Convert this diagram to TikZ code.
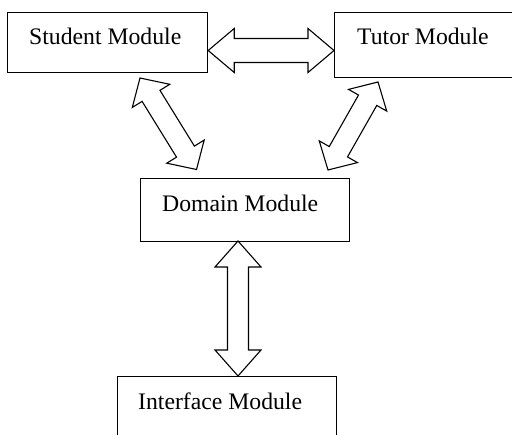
\documentclass[tikz,border=0pt]{standalone}
\usepackage{fontspec}
\setmainfont{Liberation Serif}
\usetikzlibrary{calc}
\tikzset{
  modbox/.style={draw, line width=1.2pt, anchor=north west, inner sep=0pt, rectangle},
  modtext/.style={anchor=base west, inner sep=0pt, font=\fontsize{23.7}{28}\selectfont},
  blockarr/.style={draw, line width=1.1pt, line join=miter, fill=white}
}
% #1,#2 tip coordinates; #3 head length; #4 head half width; #5 shaft half width
\newcommand{\blockdarrow}[5]{%
  \path[blockarr] (#1)
    -- ($($(#1)!#3!(#2)$)!#4!90:(#2)$)
    -- ($($(#1)!#3!(#2)$)!#5!90:(#2)$)
    -- ($($(#2)!#3!(#1)$)!#5!-90:(#1)$)
    -- ($($(#2)!#3!(#1)$)!#4!-90:(#1)$)
    -- (#2)
    -- ($($(#2)!#3!(#1)$)!#4!90:(#1)$)
    -- ($($(#2)!#3!(#1)$)!#5!90:(#1)$)
    -- ($($(#1)!#3!(#2)$)!#5!-90:(#2)$)
    -- ($($(#1)!#3!(#2)$)!#4!-90:(#2)$)
    -- cycle;}
\begin{document}
\begin{tikzpicture}[x=1pt,y=-1pt]
\useasboundingbox (0,0) rectangle (512,435);
\clip (0,0) rectangle (512,435);
% boxes
\node[modbox, minimum width=200pt, minimum height=60pt] (stu) at (7,12) {};
\node[modbox, minimum width=200pt, minimum height=65pt] (tut) at (334,12) {};
\node[modbox, minimum width=209pt, minimum height=63pt] (dom) at (140,178) {};
\node[modbox, minimum width=219pt, minimum height=80pt] (int) at (117,376) {};
% texts
\node[modtext] (stut) at (29,45) {Student Module};
\node[modtext] (tutt) at (357,45) {Tutor Module};
\node[modtext] (domt) at (162,212) {Domain Module};
\node[modtext] (intt) at (138,410) {Interface Module};
% arrow tips
\coordinate (st1) at (stu.east |- 0,50.5);
\coordinate (st2) at (tut.west |- 0,50.5);
\coordinate (sd1) at (140,78);
\coordinate (sd2) at (196.5,169.5);
\coordinate (td1) at (378,82);
\coordinate (td2) at (328,170);
\coordinate (di1) at (238,241);
\coordinate (di2) at (238,376);
% arrows
\blockdarrow{st1}{st2}{26pt}{22pt}{12pt}
\blockdarrow{sd1}{sd2}{21pt}{22pt}{10.5pt}
\blockdarrow{td1}{td2}{21pt}{22pt}{10.5pt}
\blockdarrow{di1}{di2}{26pt}{23pt}{10.5pt}
\end{tikzpicture}
\end{document}
